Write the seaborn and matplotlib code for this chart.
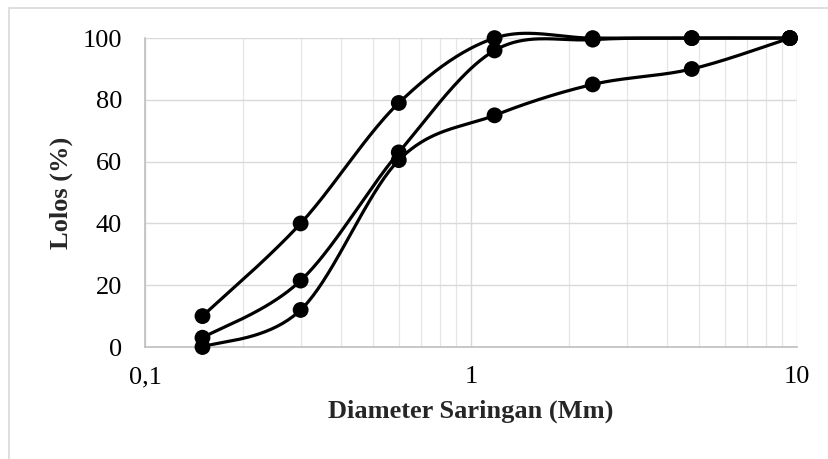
import numpy as np
import pandas as pd
import matplotlib
matplotlib.use("Agg")
import matplotlib.pyplot as plt
import seaborn as sns
from matplotlib.patches import Rectangle

# Data
sieve_mm = [0.15, 0.3, 0.6, 1.18, 2.36, 4.75, 9.5]
series_upper = [10, 40, 79, 100, 100, 100, 100]
series_middle = [3, 21.5, 63, 96, 99.5, 100, 100]
series_lower = [0, 12, 60.5, 75, 85, 90, 100]
series_names = ["Atas", "Tengah", "Bawah"]
y_ticks = [0, 20, 40, 60, 80, 100]
x_tick_vals = [0.1, 1, 10]
x_tick_labels = ["0,1", "1", "10"]

sns.set_theme(style="white")
plt.rcParams["font.family"] = ["Liberation Serif", "DejaVu Serif"]

fig = plt.figure(figsize=(8.29, 4.59), dpi=100)
ax = fig.add_axes([0.175, 0.244, 0.7866, 0.673])

# display-space scale factors for Excel-like smoothing
PX_X = 326.0  # px per decade
PX_Y = 3.09   # px per unit


def smooth(xs, ys, n=40):
    u = np.log10(np.asarray(xs, float)) * PX_X
    v = np.asarray(ys, float) * PX_Y
    P = np.column_stack([u, v])
    out = []
    m = len(P)
    for i in range(m - 1):
        p0 = P[i - 1] if i > 0 else P[i]
        p1 = P[i]
        p2 = P[i + 1]
        p3 = P[i + 2] if i + 2 < m else P[i + 1]
        c1 = p1 + (p2 - p0) / 6.0
        c2 = p2 - (p3 - p1) / 6.0
        t = np.linspace(0, 1, n, endpoint=(i == m - 2))[:, None]
        seg = ((1 - t) ** 3) * p1 + 3 * ((1 - t) ** 2) * t * c1 + 3 * (1 - t) * t ** 2 * c2 + t ** 3 * p2
        out.append(seg)
    S = np.vstack(out)
    return 10 ** (S[:, 0] / PX_X), S[:, 1] / PX_Y


rows = []
curve_rows = []
for name, vals in zip(series_names, [series_upper, series_middle, series_lower]):
    for x, y in zip(sieve_mm, vals):
        rows.append({"d": x, "p": y, "s": name})
    cx, cy = smooth(sieve_mm, vals)
    for k, (x, y) in enumerate(zip(cx, cy)):
        curve_rows.append({"d": x, "p": y, "s": name, "k": k})
pts = pd.DataFrame(rows)
curves = pd.DataFrame(curve_rows)

for name in series_names:
    sub = curves[curves["s"] == name]
    sns.lineplot(data=sub, x="d", y="p", sort=False, color="black", lw=2.3, ax=ax,
                 legend=False, clip_on=False)
sns.scatterplot(data=pts, x="d", y="p", color="black", s=130, edgecolor="none", ax=ax,
                legend=False, zorder=5, clip_on=False)

ax.set_xscale("log")
ax.set_xlim(0.1, 10)
ax.set_ylim(0, 100)
ax.set_yticks(y_ticks)
ax.set_xticks(x_tick_vals)
ax.set_xticklabels(x_tick_labels)
ax.xaxis.set_minor_locator(matplotlib.ticker.LogLocator(base=10, subs=np.arange(2, 10)))
ax.xaxis.set_minor_formatter(matplotlib.ticker.NullFormatter())

ax.grid(True, which="major", color="#d9d9d9", lw=1)
ax.grid(True, which="minor", axis="x", color="#e6e6e6", lw=0.9)
ax.set_axisbelow(True)
for sp in ["top", "right"]:
    ax.spines[sp].set_visible(False)
for sp in ["left", "bottom"]:
    ax.spines[sp].set_color("#bfbfbf")
    ax.spines[sp].set_linewidth(1.2)
ax.tick_params(axis="both", which="both", length=0, labelsize=19, colors="black")
ax.tick_params(axis="y", pad=16.5)
ax.tick_params(axis="x", pad=14)

ax.set_xlabel("Diameter Saringan (Mm)", fontsize=19, fontweight="bold", labelpad=8)
ax.set_ylabel("Lolos (%)", fontsize=19, fontweight="bold", labelpad=7)

fig.patches.append(Rectangle((9 / 829, -0.1), 2.0, 1.1 - 8 / 459, transform=fig.transFigure,
                             fill=False, edgecolor="#d9d9d9", lw=1.2, zorder=0))

fig.savefig("out.png", dpi=100)
